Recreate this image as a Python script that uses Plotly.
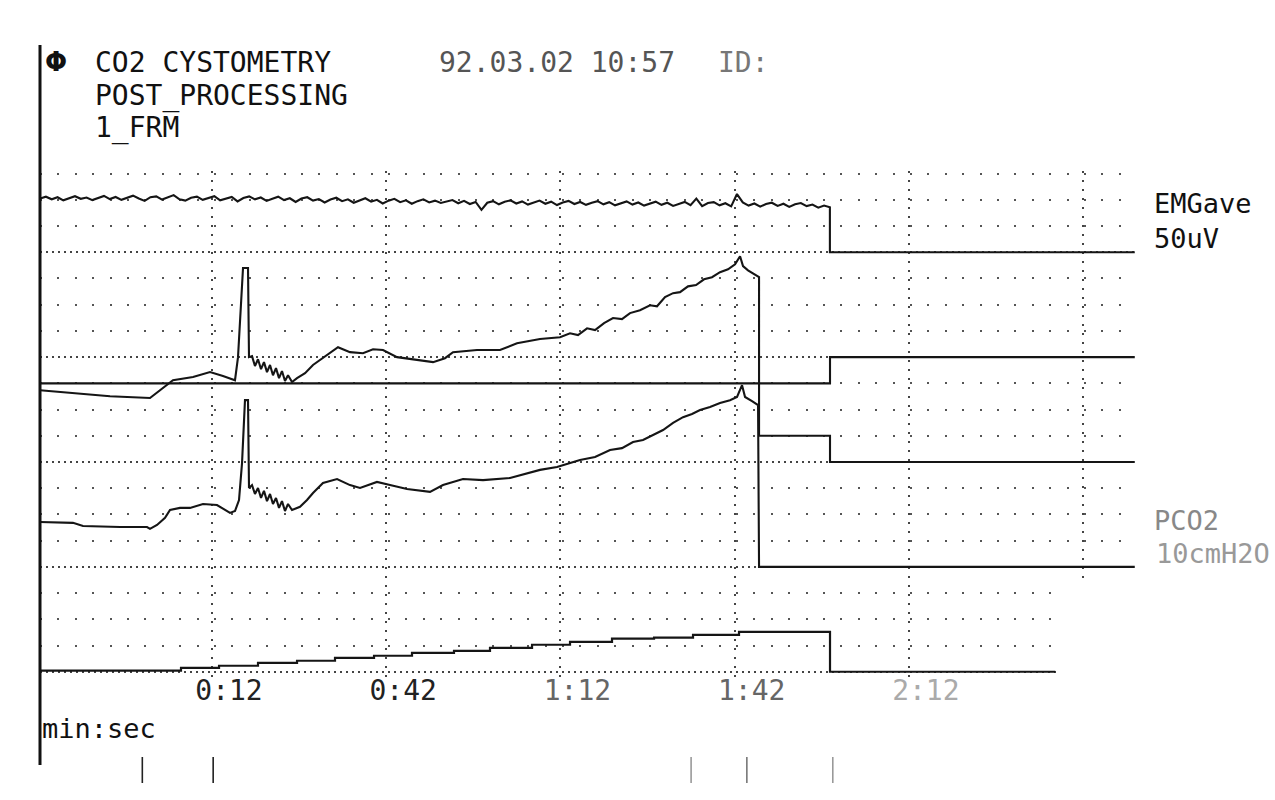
import plotly.graph_objects as go

# ---------------- data (time in s, values in chart divisions) ----------------
emg_t0 = -17.6
emg_dt = 1.0
emg_vals = [
    18.05, 18.12, 18.02, 18.10, 17.98, 18.06, 18.14, 18.04, 18.09, 17.99,
    18.07, 18.15, 18.03, 18.11, 18.00, 18.08, 18.16, 18.05, 17.96, 18.10,
    18.13, 18.01, 18.09, 18.18, 18.02, 17.97, 18.08, 18.12, 18.00, 18.06,
    18.14, 17.98, 18.05, 18.11, 17.94, 18.07, 18.13, 18.02, 18.09, 17.96,
    18.04, 18.12, 17.99, 18.06, 17.92, 18.05, 18.10, 17.97, 18.03, 17.90,
    18.01, 18.08, 17.95, 18.02, 17.89, 17.99, 18.06, 17.93, 18.00, 17.86,
    17.97, 18.04, 17.91, 17.98, 17.85, 17.95, 18.02, 17.90, 17.97, 17.88,
    17.94, 17.99, 17.87, 17.96, 17.84, 17.92, 17.62, 17.89, 17.95, 17.83,
    17.93, 17.98, 17.86, 17.94, 17.82, 17.91, 17.97, 17.85, 17.93, 17.80,
    17.90, 17.96, 17.84, 17.92, 17.81, 17.89, 17.95, 17.83, 17.91, 17.79,
    17.88, 17.94, 17.82, 17.90, 17.78, 17.87, 17.93, 17.81, 17.89, 17.77,
    17.86, 17.92, 17.80, 18.05, 17.76, 17.88, 17.91, 17.79, 17.87, 17.75,
    18.22, 17.90, 17.78, 17.86, 17.74, 17.84, 17.89, 17.77, 17.85, 17.73,
    17.83, 17.88, 17.76, 17.82, 17.70, 17.78,
]
emg_end_t = [118.4, 118.4, 170.9]
emg_end_v = [17.72, 16.0, 16.0]

pves_t = [-17.6, -12.45, -5.56, 1.32, 3.56, 5.28, 8.73, 11.66, 13.89, 15.96,
          16.48, 17.34, 18.2, 18.37, 18.89, 19.40, 19.92, 20.44, 20.95, 21.47,
          21.99, 22.50, 23.02, 23.54, 24.05, 24.57, 25.09, 25.78, 26.64, 28.02,
          29.39, 30.60, 31.80, 33.70, 35.76, 38.00, 39.73, 41.45, 43.86, 47.82,
          50.06, 52.12, 53.50, 57.63, 61.60, 64.52, 68.48, 71.93, 73.65, 75.03,
          76.58, 77.96, 79.51, 81.05, 82.60, 83.98, 85.70, 87.43, 88.63, 90.01,
          91.39, 92.59, 93.97, 95.35, 96.73, 98.10, 99.48, 100.86, 102.07, 102.93,
          103.44, 104.30, 105.16, 106.20, 106.20, 118.42, 118.42, 170.9]
pves_v = [10.74, 10.63, 10.51, 10.44, 10.82, 11.12, 11.24, 11.43, 11.28, 11.12,
          12.0, 15.4, 15.4, 12.0, 12.04, 11.66, 11.92, 11.54, 11.81, 11.43,
          11.70, 11.31, 11.58, 11.20, 11.47, 11.09, 11.31, 11.05, 11.20, 11.39,
          11.70, 11.89, 12.08, 12.38, 12.19, 12.15, 12.30, 12.27, 12.0, 11.89,
          11.81, 11.96, 12.19, 12.27, 12.27, 12.53, 12.69, 12.76, 12.91, 12.84,
          13.10, 13.03, 13.30, 13.49, 13.45, 13.68, 13.79, 13.98, 13.94, 14.29,
          14.44, 14.48, 14.70, 14.75, 14.97, 15.05, 15.24, 15.35, 15.54, 15.85,
          15.47, 15.31, 15.20, 15.05, 9.0, 9.0, 8.0, 8.0]

pco2_t = [-17.62, -11.94, -10.21, -3.84, 0.81, 1.32, 2.53, 3.91, 4.77, 6.49,
          8.21, 10.45, 12.86, 15.10, 15.96, 16.65, 17.17, 17.68, 18.20, 18.37,
          18.89, 19.40, 19.92, 20.44, 20.95, 21.47, 21.99, 22.50, 23.02, 23.54,
          24.05, 24.57, 25.09, 25.78, 27.15, 28.36, 29.39, 31.11, 33.53, 35.76,
          37.49, 40.41, 42.65, 45.58, 49.54, 51.78, 55.22, 58.67, 63.32, 68.48,
          71.41, 75.37, 77.96, 80.54, 82.60, 84.50, 86.22, 87.94, 89.67, 91.39,
          93.11, 94.66, 96.04, 97.76, 99.48, 101.20, 102.41, 103.27, 103.79, 104.99,
          106.03, 106.20, 170.9]
pco2_v = [5.71, 5.68, 5.56, 5.52, 5.52, 5.45, 5.60, 5.87, 6.17, 6.25,
          6.25, 6.40, 6.36, 6.06, 6.13, 6.55, 7.96, 10.36, 10.36, 7.01,
          7.12, 6.78, 7.01, 6.63, 6.90, 6.51, 6.78, 6.40, 6.63, 6.25,
          6.51, 6.13, 6.40, 6.17, 6.29, 6.55, 6.82, 7.20, 7.35, 7.12,
          7.01, 7.24, 7.12, 6.97, 6.86, 7.12, 7.35, 7.31, 7.39, 7.70,
          7.81, 8.08, 8.19, 8.46, 8.53, 8.76, 8.84, 9.03, 9.22, 9.49,
          9.71, 9.83, 9.98, 10.10, 10.25, 10.36, 10.48, 10.93, 10.48, 10.32,
          10.17, 4.0, 4.0]

pabd_t = [-17.6, 118.42, 118.42, 170.9]
pabd_v = [11.0, 11.0, 12.0, 12.0]

vol_t = [-17.6, 6.66, 13.21, 19.92, 26.64, 33.18, 39.90, 46.44, 53.67, 59.87,
         67.11, 73.65, 80.88, 88.12, 94.83, 102.75, 118.42, 157.2]
vol_v = [0.04, 0.15, 0.23, 0.34, 0.42, 0.53, 0.61, 0.72, 0.80, 0.91,
         1.03, 1.14, 1.26, 1.30, 1.41, 1.52, 0.0, 0.0]

tick_vals = [12, 42, 72, 102, 132, 162]
tick_text = ["0:12", "0:42",
             "<span style='color:#666'>1:12</span>",
             "<span style='color:#666'>1:42</span>",
             "<span style='color:#aaa'>2:12</span>", ""]
event_t = [0.0, 12.2, 94.5, 104.1, 118.9]
event_col = ["#222", "#222", "#999", "#777", "#999"]

# ---------------- layout geometry ----------------
W, H = 1275, 800
PL, PT, PW, PH = 40, 171, 1095, 506


def fx(px):
    return (px - PL) / PW


def fy(py):
    return (PT + PH - py) / PH


INK = "#151515"
fig = go.Figure()

emg_t = [emg_t0 + i * emg_dt for i in range(len(emg_vals))] + emg_end_t
emg_v = emg_vals + emg_end_v

for tt, vv in [(emg_t, emg_v), (pabd_t, pabd_v), (pves_t, pves_v), (pco2_t, pco2_v)]:
    fig.add_trace(go.Scatter(x=tt, y=vv, mode="lines",
                             line=dict(color=INK, width=2.1), hoverinfo="skip"))
fig.add_trace(go.Scatter(x=vol_t, y=vol_v, mode="lines",
                         line=dict(color=INK, width=2.2, shape="hv"), hoverinfo="skip"))

shapes = [
    dict(type="line", xref="paper", yref="paper", x0=0, x1=0,
         y0=fy(765), y1=fy(45), line=dict(color="#111", width=3)),
    dict(type="rect", xref="x", yref="y", x0=157.5, x1=172, y0=-0.3, y1=3.55,
         fillcolor="white", line=dict(width=0), layer="between"),
]
for t, c in zip(event_t, event_col):
    shapes.append(dict(type="line", xref="x", yref="paper", x0=t, x1=t,
                       y0=fy(783), y1=fy(757), line=dict(color=c, width=1.6)))

MONO = "DejaVu Sans Mono"


def ann(text, px, py, size=28, color="#111", anchor="left", family=MONO):
    return dict(text=text, xref="paper", yref="paper", x=fx(px), y=fy(py),
                xanchor=anchor, yanchor="middle", showarrow=False,
                font=dict(family=family, size=size, color=color))


annotations = [
    ann("<b>Φ</b>", 56, 62, size=26, anchor="center", family="DejaVu Sans"),
    ann("CO2 CYSTOMETRY", 93, 63),
    ann("POST_PROCESSING", 93, 96),
    ann("1_FRM", 93, 128),
    ann("92.03.02 10:57", 437, 63, color="#555"),
    ann("ID:", 716, 63, color="#777"),
    ann("EMGave", 1152, 204, size=27),
    ann("50uV", 1152, 238, size=27),
    ann("PCO2", 1152, 520, size=27, color="#888"),
    ann("10cmH2O", 1154, 553, size=27, color="#999"),
    ann("min:sec", 40, 728, size=27),
]

fig.update_layout(
    width=W, height=H,
    margin=dict(l=PL, r=W - PL - PW, t=PT, b=H - PT - PH, pad=0, autoexpand=False),
    paper_bgcolor="white", plot_bgcolor="white", showlegend=False,
    font=dict(family=MONO, size=28, color="#111"),
    shapes=shapes, annotations=annotations,
)
fig.update_xaxes(range=[-17.62, 170.94], tickmode="array", tickvals=tick_vals,
                 ticktext=tick_text, showgrid=True, gridcolor="#444", gridwidth=1.6,
                 griddash="2px,7px", zeroline=False, showline=False, ticks="",
                 ticklen=0, ticklabelshift=17, ticklabelstandoff=-6,
                 tickfont=dict(family=MONO, size=28, color="#222"))
fig.update_yaxes(range=[-0.2, 19.1], tick0=0, dtick=4, showgrid=True,
                 gridcolor="#444", gridwidth=1.6, griddash="2px,4px",
                 minor=dict(tick0=0, dtick=1, showgrid=True, gridcolor="#555",
                            gridwidth=2, griddash="2px,15.4px"),
                 showticklabels=False, zeroline=False, showline=False, ticks="")

fig.write_html("out.html", config={"displayModeBar": False},
               post_script="document.body.style.margin='0';document.body.style.overflow='hidden';")
